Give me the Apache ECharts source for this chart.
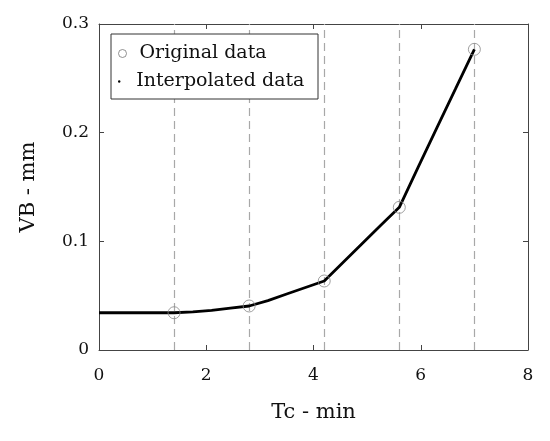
<!DOCTYPE html>
<html>
<head>
<meta charset="utf-8">
<script src="https://cdn.jsdelivr.net/npm/echarts@6/dist/echarts.min.js"></script>
<style>
  html, body { margin: 0; padding: 0; background: #fff; }
  #chart { width: 550px; height: 441px; }
</style>
</head>
<body>
<div id="chart"></div>
<script>
var tcOriginal = [1.4, 2.8, 4.2, 5.6, 7.0];
var vbOriginal = [0.0343, 0.0405, 0.0635, 0.1313, 0.2767];

// interpolated curve, read at points along the drawn line
var tcInterp = [0, 0.7, 1.4, 1.75, 2.1, 2.45, 2.8, 3.15, 3.5, 3.85, 4.2, 4.55, 4.9, 5.25, 5.6, 5.95, 6.3, 6.65, 7.0];
var vbInterp = [0.0343, 0.0343, 0.0343, 0.0350, 0.0365, 0.0385, 0.0405, 0.0455, 0.0515, 0.0575, 0.0635, 0.0805, 0.0975, 0.1145, 0.1313, 0.168, 0.2045, 0.2405, 0.2767];

var xTicks = [0, 2, 4, 6, 8];
var yTicks = [0, 0.1, 0.2, 0.3];

var font = 'DejaVu Serif';

function pairs(xs, ys) {
    var out = [];
    for (var i = 0; i < xs.length; i++) out.push([xs[i], ys[i]]);
    return out;
}

function boxLine() {
    return {show: true, onZero: false, lineStyle: {color: '#444', width: 1}};
}
// ticks pointing into the plot box
function inTick() {
    return {show: true, inside: false, length: -5, lineStyle: {color: '#444', width: 1}};
}

var chart = echarts.init(document.getElementById('chart'), null, {renderer: 'canvas'});

var option = {
    animation: false,
    backgroundColor: '#fff',
    grid: {left: 99, right: 22, top: 24, bottom: 91, containLabel: false},
    xAxis: [{
        type: 'value', position: 'bottom',
        min: xTicks[0], max: xTicks[xTicks.length - 1], interval: 2,
        name: 'Tc - min', nameLocation: 'middle', nameGap: 52,
        nameTextStyle: {fontFamily: font, fontSize: 21, color: '#111'},
        axisLine: boxLine(), axisTick: inTick(),
        axisLabel: {fontFamily: font, fontSize: 17, color: '#111', margin: 17},
        splitLine: {show: false}
    }, {
        type: 'value', position: 'top',
        min: xTicks[0], max: xTicks[xTicks.length - 1], interval: 2,
        axisLine: boxLine(), axisTick: inTick(), axisLabel: {show: false},
        splitLine: {show: false}
    }],
    yAxis: [{
        type: 'value', position: 'left',
        min: yTicks[0], max: yTicks[yTicks.length - 1], interval: 0.1,
        name: 'VB - mm', nameLocation: 'middle', nameGap: 60,
        nameTextStyle: {fontFamily: font, fontSize: 21, color: '#111'},
        axisLine: boxLine(), axisTick: inTick(),
        axisLabel: {fontFamily: font, fontSize: 17, color: '#111', margin: 10},
        splitLine: {show: false}
    }, {
        type: 'value', position: 'right',
        min: yTicks[0], max: yTicks[yTicks.length - 1], interval: 0.1,
        axisLine: boxLine(), axisTick: inTick(), axisLabel: {show: false},
        splitLine: {show: false}
    }],
    graphic: [{
        type: 'rect', z: 3,
        shape: {x: 111, y: 34, width: 207, height: 65},
        style: {fill: '#fff', stroke: '#333', lineWidth: 1}
    }],
    legend: [{
        data: [{name: 'Original data', icon: 'circle'}],
        left: 118, top: 44, z: 4, padding: 0,
        itemWidth: 8, itemHeight: 8,
        itemStyle: {color: 'rgba(0,0,0,0)', borderColor: '#777', borderWidth: 1},
        textStyle: {fontFamily: font, fontSize: 19, color: '#111', padding: [0, 0, 0, 8]},
        selectedMode: false
    }, {
        data: [{name: 'Interpolated data', icon: 'circle'}],
        left: 118, top: 72, z: 4, padding: 0,
        itemWidth: 8, itemHeight: 2.4,
        itemStyle: {color: '#000', borderWidth: 0},
        textStyle: {fontFamily: font, fontSize: 19, color: '#111', padding: [0, 0, 0, 8]},
        selectedMode: false
    }],
    series: [{
        name: 'Interpolated data',
        type: 'line',
        data: pairs(tcInterp, vbInterp),
        showSymbol: false,
        symbol: 'circle',
        itemStyle: {color: '#000'},
        lineStyle: {color: '#000', width: 2.8},
        z: 3
    }, {
        name: 'Original data',
        type: 'scatter',
        data: pairs(tcOriginal, vbOriginal),
        symbol: 'circle',
        symbolSize: 12,
        itemStyle: {color: 'rgba(0,0,0,0)', borderColor: '#888', borderWidth: 1},
        z: 4,
        markLine: {
            silent: true,
            symbol: 'none',
            label: {show: false},
            lineStyle: {color: '#a8a8a8', width: 1.2, type: [8, 5]},
            z: 1,
            data: tcOriginal.map(function (v) { return {xAxis: v}; })
        }
    }]
};

chart.setOption(option);
</script>
</body>
</html>
